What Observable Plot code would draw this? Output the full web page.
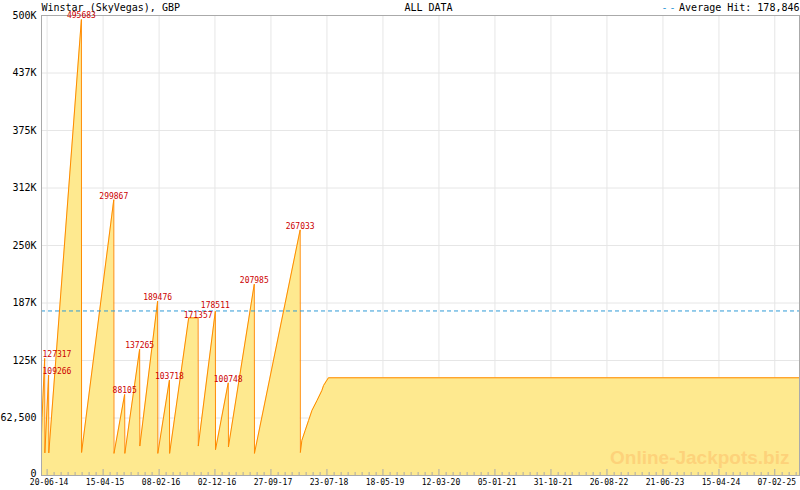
<!DOCTYPE html>
<html><head><meta charset="utf-8">
<script src="https://cdn.jsdelivr.net/npm/d3@7"></script>
<script src="https://cdn.jsdelivr.net/npm/@observablehq/plot@0.6"></script>
<style>
html,body{margin:0;padding:0;background:#fff;}
#chart{width:800px;height:490px;}
svg{display:block}
</style></head><body><div id="chart"></div>
<script>
const title = "Winstar (SkyVegas), GBP";
const subtitle = "ALL DATA";
const avgLabel = "Average Hit: 178,846";
const averageHit = 178846;
const watermark = "Online-Jackpots.biz";

// jackpot series (date, value)
const dates = [
"2014-05-21","2014-05-24","2014-06-07","2014-06-08","2014-06-28","2014-06-29",
"2014-12-20","2014-12-21","2015-06-11","2015-06-12","2015-08-08","2015-08-09",
"2015-10-27","2015-10-28","2016-01-31","2016-02-01","2016-04-03","2016-04-04",
"2016-07-15","2016-09-03","2016-09-04","2016-12-04","2016-12-05","2017-02-11","2017-02-12",
"2017-06-30","2017-07-01","2018-03-02","2018-03-03","2018-03-11","2018-03-29","2018-04-16",
"2018-05-04","2018-05-31","2018-06-26","2018-07-05","2018-07-31","2025-06-19"];
const values = [
45000, 63000, 127317, 24500, 109266, 24500,
495683, 25000, 299867, 24000, 88105, 24000,
137265, 32000, 189476, 24000, 103718, 24000,
171357, 171357, 32000, 178511, 28000, 100748, 31000,
207985, 24000, 267033, 25000, 38000, 49000, 59800,
70700, 81500, 92400, 97800, 106200, 106200];

// labelled hits
const hitDates = ["2014-06-07","2014-06-28","2014-12-20","2015-06-11","2015-08-08","2015-10-27","2016-01-31","2016-04-03","2016-09-03","2016-12-04","2017-02-11","2017-06-30","2018-03-02"];
const hitValues = [127317,109266,495683,299867,88105,137265,189476,103718,171357,178511,100748,207985,267033];

// axes
const xTickDates = ["2014-06-20","2015-04-15","2016-02-08","2016-12-02","2017-09-27","2018-07-23","2019-05-18","2020-03-12","2021-01-05","2021-10-31","2022-08-26","2023-06-21","2024-04-15","2025-02-07"];
const xDomainDates = ["2014-05-21","2025-06-19"];
const yTicks = [0, 62500, 125000, 187500, 250000, 312500, 375000, 437500, 500000];
const yTickLabels = ["0","62,500","125K","187K","250K","312K","375K","437K","500K"];

const parse = d3.utcParse("%Y-%m-%d");
const data = dates.map((d, i) => ({date: parse(d), value: values[i]}));
const hits = hitDates.map((d, i) => ({date: parse(d), value: hitValues[i], label: String(hitValues[i]), dy: -1}));
const majors = xTickDates.map(parse);
const xDomain = xDomainDates.map(parse);

const W = 800, H = 490, mL = 41, mR = 1, mT = 15, mB = 15;
const xs = Plot.scale({x: {type: "utc", domain: xDomain, range: [mL, W - mR]}});
const ys = Plot.scale({y: {domain: [0, 500000], range: [H - mB, mT]}});
const charW = 4.8;
hits.forEach(h => {
  h.px = xs.apply(h.date);
  h.clamped = h.px - h.label.length * charW / 2 < mL;
  if (h.clamped) h.px = mL + 1 + h.label.length * charW / 2;
  h.py = ys.apply(h.value);
});
// nudge labels that would collide
for (let i = 0; i < hits.length; i++) {
  for (let j = i + 1; j < hits.length; j++) {
    const a = hits[i], b = hits[j];
    if (a.clamped || b.clamped) continue;
    const dxp = Math.abs(a.px - b.px), dyp = Math.abs(a.py - b.py);
    if (dxp < a.label.length * charW && dyp < 9) {
      const [hi, lo] = a.py < b.py ? [a, b] : [b, a];
      hi.dy = -3; lo.dy = 0;
    }
  }
}
const hitsCentered = hits.filter(h => !h.clamped);
const hitsLeft = hits.filter(h => h.clamped);

// minor ticks: 8 subdivisions of the major interval
const step = (majors[1] - majors[0]) / 8;
const minors = [];
for (let k = 1; +majors[0] + k * step <= +xDomain[1]; k++) {
  if (k % 8 !== 0) minors.push(new Date(+majors[0] + k * step));
}
const unitsPerPx = 500000 / (H - mT - mB);
const yTicksAbove = yTicks.filter(d => d > 0);

const labelMarks = hitsCentered.map(h => Plot.text([h], {x: "date", y: "value", text: "label", textAnchor: "middle",
  lineAnchor: "bottom", fontSize: 8, fill: "#cc0000", dy: h.dy}));

const chart = Plot.plot({
  width: W, height: H,
  marginLeft: mL, marginRight: mR, marginTop: mT, marginBottom: mB,
  style: {fontFamily: "DejaVu Sans Mono", fontSize: "10px", background: "#fff", overflow: "visible"},
  x: {type: "utc", domain: xDomain},
  y: {domain: [0, 500000]},
  marks: [
    Plot.gridY(yTicks, {stroke: "#e6e6e6", strokeOpacity: 1}),
    Plot.gridX(majors, {stroke: "#e6e6e6", strokeOpacity: 1}),
    Plot.areaY(data, {x: "date", y: "value", fill: "#fee98f"}),
    Plot.text([watermark], {frameAnchor: "bottom-right", dx: -10, dy: -12, textAnchor: "end", lineAnchor: "bottom",
      fontFamily: "Liberation Sans", fontWeight: "bold", fontSize: 19, fill: "#fdd27a"}),
    Plot.lineY(data, {x: "date", y: "value", stroke: "#ff8a00", strokeWidth: 1}),
    Plot.ruleY([averageHit], {stroke: "#2e9bd6", strokeDasharray: "4,3", strokeWidth: 1}),
    Plot.ruleX(minors, {x: d => d, y1: 0, y2: 3 * unitsPerPx, stroke: "#aaa"}),
    Plot.ruleX(majors, {x: d => d, y1: 0, y2: 6 * unitsPerPx, stroke: "#aaa"}),
    Plot.frame({stroke: "#aaa"}),
    ...labelMarks,
    Plot.text(hitsLeft, {y: "value", text: "label", frameAnchor: "left", textAnchor: "start", lineAnchor: "bottom",
      fontSize: 8, fill: "#cc0000", dx: 1, dy: -1}),
    Plot.axisY(yTicksAbove, {tickSize: 0, tickPadding: 5, fontSize: 10, fill: "#000", label: null,
      tickFormat: d => yTickLabels[yTicks.indexOf(d)]}),
    Plot.text([yTicks[0]], {y: d => d, text: () => yTickLabels[0], frameAnchor: "left", textAnchor: "end",
      lineAnchor: "middle", dx: -5, dy: -2, fontSize: 10, fill: "#000"}),
    Plot.axisX(majors, {tickSize: 0, tickPadding: 4, fontSize: 8, dx: 2, fill: "#000", label: null,
      tickFormat: d3.utcFormat("%d-%m-%y")}),
    Plot.text([title], {frameAnchor: "top-left", textAnchor: "start", lineAnchor: "bottom", dy: -5, fontSize: 10, fill: "#000"}),
    Plot.text([subtitle], {frameAnchor: "top", textAnchor: "middle", lineAnchor: "bottom", dx: 8, dy: -5, fontSize: 10, fill: "#000"}),
    Plot.text([avgLabel], {frameAnchor: "top-right", textAnchor: "end", lineAnchor: "bottom", dy: -5, fontSize: 10, fill: "#000"}),
    Plot.text(["--"], {frameAnchor: "top-right", textAnchor: "end", lineAnchor: "bottom", dx: -122, dy: -5, fontSize: 10, fill: "#2e9bd6"})
  ]
});
d3.select(chart).selectAll("text").filter(function() { return this.textContent === "--"; })
  .attr("letter-spacing", "2");
document.getElementById("chart").appendChild(chart);
</script>
</body></html>
